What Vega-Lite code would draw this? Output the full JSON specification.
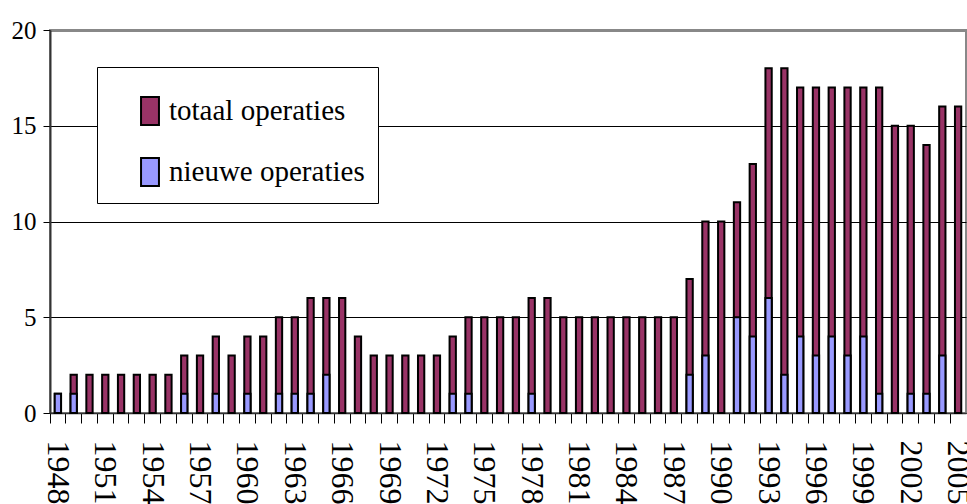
{
  "$schema": "https://vega.github.io/schema/vega-lite/v6.json",
  "autosize": {"type": "none"},
  "padding": {"left": 50, "top": 30, "right": 1, "bottom": 91},
  "width": 916,
  "height": 383,
  "background": "white",
  "config": {
    "view": {"stroke": "#888888", "strokeWidth": 2},
    "font": "Liberation Serif"
  },
  "data": {
    "values": [
      {"jaar": 1948, "totaal": 1, "nieuwe": 1},
      {"jaar": 1949, "totaal": 2, "nieuwe": 1},
      {"jaar": 1950, "totaal": 2, "nieuwe": 0},
      {"jaar": 1951, "totaal": 2, "nieuwe": 0},
      {"jaar": 1952, "totaal": 2, "nieuwe": 0},
      {"jaar": 1953, "totaal": 2, "nieuwe": 0},
      {"jaar": 1954, "totaal": 2, "nieuwe": 0},
      {"jaar": 1955, "totaal": 2, "nieuwe": 0},
      {"jaar": 1956, "totaal": 3, "nieuwe": 1},
      {"jaar": 1957, "totaal": 3, "nieuwe": 0},
      {"jaar": 1958, "totaal": 4, "nieuwe": 1},
      {"jaar": 1959, "totaal": 3, "nieuwe": 0},
      {"jaar": 1960, "totaal": 4, "nieuwe": 1},
      {"jaar": 1961, "totaal": 4, "nieuwe": 0},
      {"jaar": 1962, "totaal": 5, "nieuwe": 1},
      {"jaar": 1963, "totaal": 5, "nieuwe": 1},
      {"jaar": 1964, "totaal": 6, "nieuwe": 1},
      {"jaar": 1965, "totaal": 6, "nieuwe": 2},
      {"jaar": 1966, "totaal": 6, "nieuwe": 0},
      {"jaar": 1967, "totaal": 4, "nieuwe": 0},
      {"jaar": 1968, "totaal": 3, "nieuwe": 0},
      {"jaar": 1969, "totaal": 3, "nieuwe": 0},
      {"jaar": 1970, "totaal": 3, "nieuwe": 0},
      {"jaar": 1971, "totaal": 3, "nieuwe": 0},
      {"jaar": 1972, "totaal": 3, "nieuwe": 0},
      {"jaar": 1973, "totaal": 4, "nieuwe": 1},
      {"jaar": 1974, "totaal": 5, "nieuwe": 1},
      {"jaar": 1975, "totaal": 5, "nieuwe": 0},
      {"jaar": 1976, "totaal": 5, "nieuwe": 0},
      {"jaar": 1977, "totaal": 5, "nieuwe": 0},
      {"jaar": 1978, "totaal": 6, "nieuwe": 1},
      {"jaar": 1979, "totaal": 6, "nieuwe": 0},
      {"jaar": 1980, "totaal": 5, "nieuwe": 0},
      {"jaar": 1981, "totaal": 5, "nieuwe": 0},
      {"jaar": 1982, "totaal": 5, "nieuwe": 0},
      {"jaar": 1983, "totaal": 5, "nieuwe": 0},
      {"jaar": 1984, "totaal": 5, "nieuwe": 0},
      {"jaar": 1985, "totaal": 5, "nieuwe": 0},
      {"jaar": 1986, "totaal": 5, "nieuwe": 0},
      {"jaar": 1987, "totaal": 5, "nieuwe": 0},
      {"jaar": 1988, "totaal": 7, "nieuwe": 2},
      {"jaar": 1989, "totaal": 10, "nieuwe": 3},
      {"jaar": 1990, "totaal": 10, "nieuwe": 0},
      {"jaar": 1991, "totaal": 11, "nieuwe": 5},
      {"jaar": 1992, "totaal": 13, "nieuwe": 4},
      {"jaar": 1993, "totaal": 18, "nieuwe": 6},
      {"jaar": 1994, "totaal": 18, "nieuwe": 2},
      {"jaar": 1995, "totaal": 17, "nieuwe": 4},
      {"jaar": 1996, "totaal": 17, "nieuwe": 3},
      {"jaar": 1997, "totaal": 17, "nieuwe": 4},
      {"jaar": 1998, "totaal": 17, "nieuwe": 3},
      {"jaar": 1999, "totaal": 17, "nieuwe": 4},
      {"jaar": 2000, "totaal": 17, "nieuwe": 1},
      {"jaar": 2001, "totaal": 15, "nieuwe": 0},
      {"jaar": 2002, "totaal": 15, "nieuwe": 1},
      {"jaar": 2003, "totaal": 14, "nieuwe": 1},
      {"jaar": 2004, "totaal": 16, "nieuwe": 3},
      {"jaar": 2005, "totaal": 16, "nieuwe": 0}
    ]
  },
  "transform": [
    {"fold": ["totaal", "nieuwe"], "as": ["serie", "aantal"]}
  ],
  "mark": {"type": "bar", "width": 6.3, "stroke": "#000000", "strokeWidth": 2},
  "encoding": {
    "x": {
      "field": "jaar",
      "type": "ordinal",
      "scale": {"paddingInner": 0, "paddingOuter": 0},
      "axis": {
        "title": null,
        "bandPosition": 0,
        "labelAngle": 90,
        "labelAlign": "left",
        "labelBaseline": "middle",
        "labelOverlap": false,
        "labelFont": "Liberation Serif",
        "labelFontSize": 32,
        "labelColor": "#000000",
        "labelPadding": 17,
        "labelExpr": "(datum.value - 1948) % 3 === 0 ? datum.label : ''",
        "tickSize": 10,
        "tickColor": "#000000",
        "tickWidth": 1,
        "domainColor": "#333333",
        "domainWidth": 1.5,
        "grid": false
      }
    },
    "y": {
      "field": "aantal",
      "type": "quantitative",
      "stack": null,
      "scale": {"domain": [0, 20], "nice": false},
      "axis": {
        "title": null,
        "values": [0, 5, 10, 15, 20],
        "labelFont": "Liberation Serif",
        "labelFontSize": 25,
        "labelColor": "#000000",
        "labelPadding": 7,
        "tickSize": 7,
        "tickColor": "#000000",
        "domainColor": "#333333",
        "domainWidth": 2,
        "grid": true,
        "gridColor": {"condition": {"test": "datum.value === 20", "value": "#888888"}, "value": "#000000"},
        "gridWidth": {"condition": {"test": "datum.value === 20", "value": 3}, "value": 1},
        "gridOpacity": 1
      }
    },
    "color": {
      "field": "serie",
      "type": "nominal",
      "scale": {"domain": ["totaal", "nieuwe"], "range": ["#993366", "#9999FF"]},
      "legend": {
        "title": " ",
        "titleFontSize": 16,
        "titlePadding": 0,
        "orient": "none",
        "legendX": 47,
        "legendY": 37,
        "padding": 13,
        "fillColor": "#FFFFFF",
        "strokeColor": "#000000",
        "symbolType": "M-0.64,-1H0.64V1H-0.64Z",
        "symbolSize": 784,
        "symbolStrokeColor": "#000000",
        "symbolStrokeWidth": 2,
        "symbolOffset": 25,
        "labelOffset": 4,
        "labelFont": "Liberation Serif",
        "labelFontSize": 29,
        "labelColor": "#000000",
        "labelLimit": 400,
        "rowPadding": 25,
        "labelExpr": "datum.label === 'totaal' ? 'totaal operaties' : 'nieuwe operaties'"
      }
    }
  }
}
